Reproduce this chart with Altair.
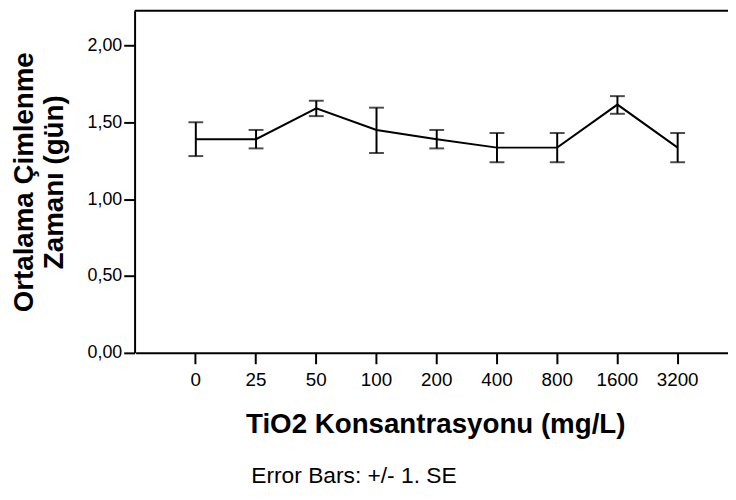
import altair as alt
import pandas as pd

conc = ["0", "25", "50", "100", "200", "400", "800", "1600", "3200"]
mean = [1.39, 1.39, 1.59, 1.45, 1.39, 1.335, 1.335, 1.615, 1.335]
lower = [1.28, 1.33, 1.54, 1.30, 1.33, 1.24, 1.24, 1.555, 1.24]
upper = [1.50, 1.45, 1.64, 1.595, 1.45, 1.43, 1.43, 1.67, 1.43]
y_ticks = [0, 0.5, 1.0, 1.5, 2.0]

x_title = "TiO2 Konsantrasyonu (mg/L)"
y_title = ["Ortalama Çimlenme", "Zamanı (gün)"]
note = "Error Bars: +/- 1. SE"

df = pd.DataFrame({"conc": conc, "mean": mean, "lower": lower, "upper": upper})
caps = pd.DataFrame({"conc": conc * 2, "val": lower + upper})

FONT = "Liberation Sans"
W, H = 600, 346
FULL = 610

xscale = alt.Scale(domain=conc, range=[1, FULL], padding=1)
yscale = alt.Scale(domain=[0, 2.226], nice=False, zero=True)

xenc = alt.X(
    "conc:N", sort=conc, scale=xscale, title=x_title,
    axis=alt.Axis(
        labelAngle=0, labelFontSize=19, labelPadding=7, tickSize=11, tickWidth=2,
        domainWidth=2, titleFontSize=28, titleFontWeight="bold",
        titleX=304, titleY=81, titleBaseline="alphabetic", titleAlign="center",
    ),
)
yaxis = alt.Axis(
    values=y_ticks, labelExpr="replace(format(datum.value, '.2f'), '.', ',')",
    labelFontSize=18, labelPadding=2, tickSize=11, tickWidth=2, domainWidth=2,
    grid=False, titleFontSize=28, titleFontWeight="bold", titleLineHeight=30,
    titleX=-97, titleY=173,
)

base = alt.Chart(df)
line = base.mark_line(color="black", strokeWidth=2).encode(
    x=xenc, y=alt.Y("mean:Q", scale=yscale, axis=yaxis, title=y_title)
)
bars = base.mark_rule(color="black", strokeWidth=2).encode(
    x=alt.X("conc:N", sort=conc), y="lower:Q", y2="upper:Q"
)
ticks = alt.Chart(caps).mark_tick(color="black", size=15, thickness=2).encode(
    x=alt.X("conc:N", sort=conc), y="val:Q"
)
one = pd.DataFrame({"t": [note]})
top = alt.Chart(one).mark_rule(color="black", strokeWidth=2).encode(
    x=alt.value(0), x2=alt.value(FULL), y=alt.value(0)
)
foot = alt.Chart(one).mark_text(
    align="left", baseline="alphabetic", fontSize=23, font=FONT, color="black"
).encode(x=alt.value(118), y=alt.value(478), text="t:N")

chart = alt.layer(line, bars, ticks, top, foot).properties(
    width=W, height=H,
    autosize=alt.AutoSizeParams(type="none"),
    padding={"left": 128, "top": 0, "right": 0, "bottom": 138},
).configure_view(stroke=None).configure_axis(
    labelFont=FONT, titleFont=FONT, labelColor="black", titleColor="black",
    domainColor="black", tickColor="black",
)

chart.save("out.html", embed_options={"renderer": "svg", "actions": False})
